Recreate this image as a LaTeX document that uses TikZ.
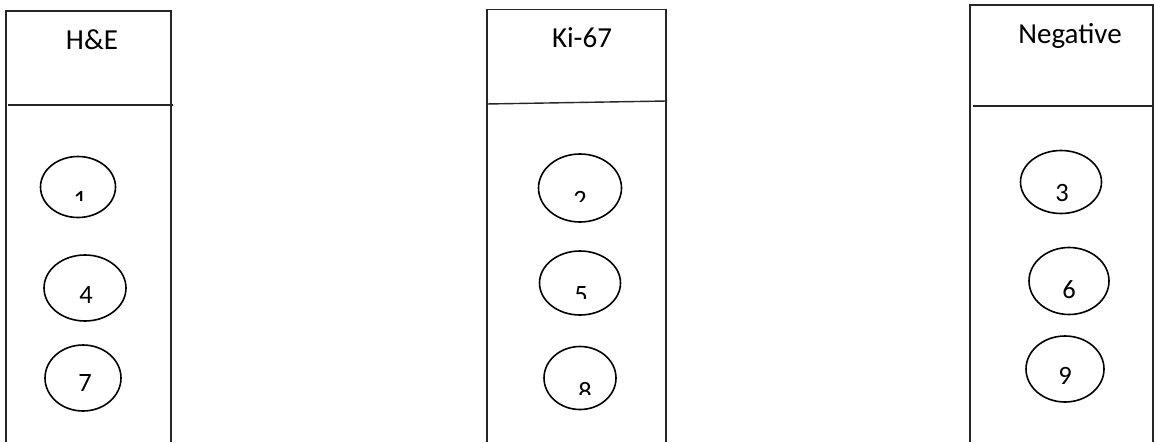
\documentclass[tikz,border=0pt]{standalone}
\usepackage{fontspec}
\setmainfont{Carlito}
\usetikzlibrary{shapes.geometric}
\begin{document}
\begin{tikzpicture}[x=1pt,y=-1pt,
  frame/.style={draw=black!85,line width=1.4pt},
  well/.style={ellipse,draw=black,line width=1.6pt,inner sep=0pt},
  head/.style={anchor=base,inner sep=0pt,font=\fontsize{29}{34}\selectfont},
  num/.style={anchor=base,inner sep=0pt,font=\fontsize{26.5}{31}\selectfont}]
\useasboundingbox (0,0) rectangle (1155,442);

% slide 1
\draw[frame] (6,442) -- (6,11) -- (171,11) -- (171,442);
\draw[frame] (8,105) -- (173,105);
\node[head] (hA) at (92,49) {H\&E};
\node[well,minimum width=75pt,minimum height=61pt] (w1) at (78,187) {};
\node[well,minimum width=82pt,minimum height=66pt] (w4) at (85,288) {};
\node[well,minimum width=76pt,minimum height=66pt] (w7) at (83,378) {};
\begin{scope}
  \clip (60,170) rectangle (100,200);
  \node[num] (n1) at (80,208) {1};
\end{scope}
\node[num] (n4) at (86,303) {4};
\node[num] (n7) at (85,391) {7};

% slide 2
\draw[frame] (487,442) -- (487,9.5) -- (666,9.5) -- (666,442);
\draw[frame] (486,104) -- (667,101);
\node[head] (hB) at (582,47) {Ki-67};
\node[well,minimum width=83pt,minimum height=68pt] (w2) at (580,188) {};
\node[well,minimum width=81pt,minimum height=64pt] (w5) at (580,283) {};
\node[well,minimum width=72pt,minimum height=63pt] (w8) at (580,378) {};
\begin{scope}
  \clip (560,170) rectangle (600,201);
  \node[num] (n2) at (580,208) {2};
\end{scope}
\begin{scope}
  \clip (560,270) rectangle (600,298);
  \node[num] (n5) at (581,303) {5};
\end{scope}
\begin{scope}
  \clip (560,370) rectangle (610,394);
  \node[num] (n8) at (585,400) {8};
\end{scope}

% slide 3
\draw[frame] (970,442) -- (970,5) -- (1153,5) -- (1153,442);
\draw[frame] (973,106) -- (1153,106);
\node[head] (hC) at (1070,43) {Negative};
\node[well,minimum width=81pt,minimum height=63pt] (w3) at (1061,182) {};
\node[well,minimum width=80pt,minimum height=67pt] (w6) at (1069,281) {};
\node[well,minimum width=78pt,minimum height=66pt] (w9) at (1065,369) {};
\node[num] (n3) at (1062,201) {3};
\node[num] (n6) at (1069,298) {6};
\node[num] (n9) at (1065,384) {9};
\end{tikzpicture}
\end{document}
